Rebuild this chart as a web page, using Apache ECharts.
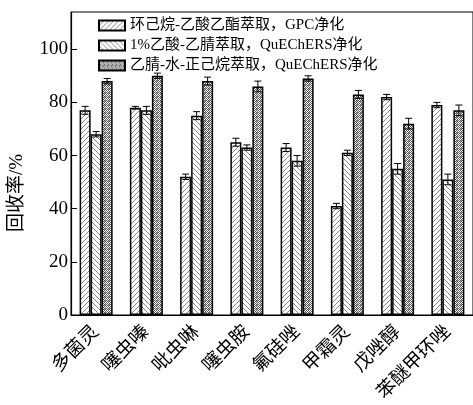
<!DOCTYPE html>
<html><head><meta charset="utf-8">
<script src="https://cdn.jsdelivr.net/npm/echarts@6/dist/echarts.min.js"></script>
<style>html,body{margin:0;padding:0;background:#fff}#c{width:473px;height:405px}</style>
</head><body><div id="c"></div>
<script>
var categories = ['多菌灵','噻虫嗪','吡虫啉','噻虫胺','氟硅唑','甲霜灵','戊唑醇','苯醚甲环唑'];
var seriesNames = ['环己烷-乙酸乙酯萃取，GPC净化','1%乙酸-乙腈萃取，QuEChERS净化','乙腈-水-正己烷萃取，QuEChERS净化'];
var valuesA = [77, 78, 52, 65, 63, 41, 82, 79];
var valuesB = [68, 77, 75, 63, 58, 61, 55, 51];
var valuesC = [88, 90, 88, 86, 89, 83, 72, 77];
var errA = [1.5, 0.5, 1, 1.5, 1.5, 1, 1, 1];
var errB = [1, 1.5, 1.5, 1, 2, 1, 2, 2];
var errC = [1, 1, 1.5, 2, 1, 1.5, 2, 2];
var yTicks = [0, 20, 40, 60, 80, 100];

function makePattern(kind){
  var c = document.createElement('canvas');
  var s = kind === 'cross' ? 4 : 5;
  c.width = s; c.height = s;
  var g = c.getContext('2d');
  g.fillStyle = '#fff'; g.fillRect(0,0,s,s);
  if (kind === 'cross') {
    g.fillStyle = '#5a5a5a';
    g.fillRect(0,0,1,1); g.fillRect(2,0,1,1); g.fillRect(1,1,1,1); g.fillRect(3,1,1,1);
    g.fillRect(0,2,1,1); g.fillRect(2,2,1,1); g.fillRect(1,3,1,1); g.fillRect(3,3,1,1);
    g.fillStyle = '#999';
    g.fillRect(1,0,1,1); g.fillRect(0,1,1,1);
  } else {
    g.strokeStyle = '#7a7a7a'; g.lineWidth = 0.9;
    g.beginPath();
    if (kind === 'fwd') {
      g.moveTo(-1, s+1); g.lineTo(s+1, -1);
      g.moveTo(-1, 1); g.lineTo(1, -1);
      g.moveTo(s-1, s+1); g.lineTo(s+1, s-1);
    } else {
      g.moveTo(-1, -1); g.lineTo(s+1, s+1);
      g.moveTo(s-1, -1); g.lineTo(s+1, 1);
      g.moveTo(-1, s-1); g.lineTo(1, s+1);
    }
    g.stroke();
  }
  return {image: c, repeat: 'repeat'};
}

var fontF = '"Liberation Serif", "Noto Sans CJK SC", serif';
var chart = echarts.init(document.getElementById('c'), null, {renderer: 'canvas'});

function barSeries(name, data, kind){
  return {
    name: name, type: 'bar', data: data, barWidth: 11, barGap: '0%',
    itemStyle: {color: makePattern(kind), borderColor: '#000', borderWidth: 1.5},
    emphasis: {disabled: true}, z: 2
  };
}
function errSeries(vals, errs, offset){
  var d = vals.map(function(v, i){ return [i, v, errs[i]]; });
  return {
    type: 'custom', data: d, z: 5, silent: true,
    encode: {x: 0, y: 1},
    renderItem: function(params, api){
      var i = api.value(0), v = api.value(1), e = api.value(2);
      var hi = api.coord([i, v + e]), lo = api.coord([i, v - e]);
      var x = hi[0] + offset, cw = 3.5;
      var st = {stroke: '#000', lineWidth: 1};
      return {type: 'group', children: [
        {type: 'line', shape: {x1: x, y1: hi[1], x2: x, y2: lo[1]}, style: st},
        {type: 'line', shape: {x1: x - cw, y1: hi[1], x2: x + cw, y2: hi[1]}, style: st},
        {type: 'line', shape: {x1: x - cw, y1: lo[1], x2: x + cw, y2: lo[1]}, style: st}
      ]};
    }
  };
}

chart.setOption({
  animation: false,
  backgroundColor: '#fff',
  grid: {left: 71, top: 12, width: 404, bottom: 90, show: true, borderColor: '#000', borderWidth: 1, backgroundColor: 'transparent'},
  legend: {
    data: seriesNames, orient: 'vertical', left: 93, top: 13, icon: 'rect',
    itemWidth: 26, itemHeight: 10, itemGap: 5,
    textStyle: {fontFamily: fontF, fontSize: 15, color: '#000', lineHeight: 15},
    selectedMode: false
  },
  xAxis: {
    type: 'category', data: categories,
    axisLine: {lineStyle: {color: '#000', width: 1.2}},
    axisTick: {alignWithLabel: true, length: 6, lineStyle: {color: '#000'}},
    axisLabel: {rotate: 45, interval: 0, fontFamily: fontF, fontSize: 19, color: '#000', margin: 14}
  },
  yAxis: {
    type: 'value', min: 0, max: 114, interval: 20,
    splitLine: {show: false},
    axisLine: {show: true, lineStyle: {color: '#000', width: 1.2}},
    axisTick: {show: true, inside: true, length: 6, lineStyle: {color: '#000'}},
    axisLabel: {fontFamily: fontF, fontSize: 19, color: '#000', margin: 3, showMaxLabel: false,
      formatter: function(v){ return yTicks.indexOf(v) >= 0 ? String(v) : ''; }}
  },
  graphic: [{
    type: 'text', x: 17, y: 193, rotation: Math.PI / 2,
    style: {text: '回收率/%', font: '19px ' + fontF, fill: '#000', align: 'center', verticalAlign: 'middle'}
  }],
  series: [
    barSeries(seriesNames[0], valuesA, 'fwd'),
    barSeries(seriesNames[1], valuesB, 'back'),
    barSeries(seriesNames[2], valuesC, 'cross'),
    errSeries(valuesA, errA, -11),
    errSeries(valuesB, errB, 0),
    errSeries(valuesC, errC, 11)
  ]
});
</script></body></html>
